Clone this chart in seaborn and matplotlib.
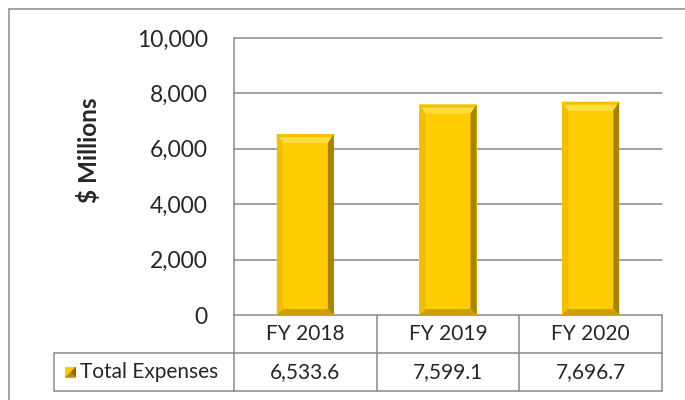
import pandas as pd
import matplotlib
matplotlib.use("Agg")
import matplotlib.pyplot as plt
import seaborn as sns
from matplotlib.patches import Polygon, Rectangle
from matplotlib.lines import Line2D

# -----------------------------
# Data
# -----------------------------
years = ["FY 2018", "FY 2019", "FY 2020"]
expenses = [6533.6, 7599.1, 7696.7]
series_name = "Total Expenses"
yticks = [0, 2000, 4000, 6000, 8000, 10000]
y_label = "\\$ Millions"

df = pd.DataFrame({"year": years, "expenses": expenses})

# -----------------------------
# Style
# -----------------------------
sns.set_style("white")
plt.rcParams["font.family"] = ["Lato", "DejaVu Sans"]

GOLD = "#FFCC00"
LINE = "#8a8a8a"
W, H = 685, 400

fig = plt.figure(figsize=(W / 100, H / 100), dpi=100)
ax_left, ax_right, ax_top, ax_bottom = 234, 662, 38, 315
ax = fig.add_axes([ax_left / W, 1 - ax_bottom / H,
                   (ax_right - ax_left) / W, (ax_bottom - ax_top) / H])

# -----------------------------
# Bars
# -----------------------------
sns.barplot(data=df, x="year", y="expenses", color=GOLD, width=0.4,
            saturation=1, edgecolor="none", ax=ax, zorder=3)
ax.set_xlim(-0.5, 2.5)
ax.set_ylim(0, 10000)
ax.set_yticks(yticks)
ax.set_yticklabels([f"{v:,}" for v in yticks], fontsize=16.5)
ax.set_xticks([])
ax.set_xlabel("")
ax.set_ylabel(y_label, fontsize=17.5, fontweight="bold")
ax.yaxis.set_label_coords(-0.31, 0.596)
ax.tick_params(axis="y", length=0, pad=19)
for s in ["top", "right", "bottom"]:
    ax.spines[s].set_visible(False)
ax.spines["left"].set_color(LINE)
ax.spines["left"].set_linewidth(1.1)

# gridlines
for v in yticks[1:]:
    ax.axhline(v, color=LINE, lw=1.1, zorder=1, clip_on=False)

# bevel effect on each bar
px_w = (ax_right - ax_left)
px_h = (ax_bottom - ax_top)
dx = 3.0 / px_w
dy = 10000.0 / px_h
t, s, b = 9, 6, 6
for p in ax.patches:
    x0, w, h = p.get_x(), p.get_width(), p.get_height()
    x1 = x0 + w
    top = [(x0, h), (x1, h), (x1 - s * dx, h - t * dy), (x0 + s * dx, h - t * dy)]
    top_edge = [(x0, h), (x1, h), (x1 - 2 * dx, h - 3 * dy), (x0 + 2 * dx, h - 3 * dy)]
    left = [(x0, h), (x0 + s * dx, h - t * dy), (x0 + s * dx, b * dy), (x0, 0)]
    right = [(x1, h), (x1, 0), (x1 - s * dx, b * dy), (x1 - s * dx, h - t * dy)]
    bottom = [(x0, 0), (x1, 0), (x1 - s * dx, b * dy), (x0 + s * dx, b * dy)]
    ax.add_patch(Polygon(top, closed=True, color="#FFDF40", lw=0, zorder=4))
    ax.add_patch(Polygon(top_edge, closed=True, color="#F5BF00", lw=0, zorder=4))
    ax.add_patch(Polygon(left, closed=True, color="#F4BE00", lw=0, zorder=4))
    ax.add_patch(Polygon(right, closed=True, color="#A98300", lw=0, zorder=4))
    ax.add_patch(Polygon(bottom, closed=True, color="#CF9E00", lw=0, zorder=4))

# -----------------------------
# Data table under the axis
# -----------------------------
row_h = 38 / px_h
leg_x = (54 - ax_left) / px_w
tr = ax.transAxes
kw = dict(color=LINE, lw=1.1, transform=tr, clip_on=False)
ax.add_line(Line2D([0, 1], [0, 0], **kw))
ax.add_line(Line2D([leg_x, 1], [-row_h, -row_h], **kw))
ax.add_line(Line2D([leg_x, 1], [-2 * row_h, -2 * row_h], **kw))
ax.add_line(Line2D([leg_x, leg_x], [-row_h, -2 * row_h], **kw))
for xv in [0, 1 / 3, 2 / 3, 1]:
    ax.add_line(Line2D([xv, xv], [0, -2 * row_h], **kw))

for i, (yr, val) in enumerate(zip(years, expenses)):
    xc = (i + 0.5) / 3
    ax.text(xc, -0.5 * row_h, yr, transform=tr, ha="center", va="center",
            fontsize=15)
    ax.text(xc, -1.5 * row_h, f"{val:,.1f}", transform=tr, ha="center",
            va="center", fontsize=15)

# legend key
kx = (65 - ax_left) / px_w
kw_ = 11 / px_w
kh = 11 / px_h
ky = -1.5 * row_h - kh / 2
ax.add_patch(Rectangle((kx, ky), kw_, kh, transform=tr, clip_on=False,
                       facecolor=GOLD, edgecolor="none"))
ax.add_patch(Polygon([(kx, ky), (kx + kw_, ky), (kx + kw_ / 2, ky + kh / 2)],
                     closed=True, transform=tr, clip_on=False,
                     facecolor="#B88E00", edgecolor="none"))
ax.add_patch(Polygon([(kx + kw_, ky), (kx + kw_, ky + kh), (kx + kw_ / 2, ky + kh / 2)],
                     closed=True, transform=tr, clip_on=False,
                     facecolor="#8C6B00", edgecolor="none"))
ax.text((80 - ax_left) / px_w, -1.5 * row_h, series_name, transform=tr,
        ha="left", va="center", fontsize=15)

# outer chart border (top and left visible)
fig.add_artist(Line2D([9 / W, 1], [1 - 9 / H, 1 - 9 / H], color=LINE, lw=1.1))
fig.add_artist(Line2D([9 / W, 9 / W], [0, 1 - 9 / H], color=LINE, lw=1.1))

fig.savefig("out.png", dpi=100)
